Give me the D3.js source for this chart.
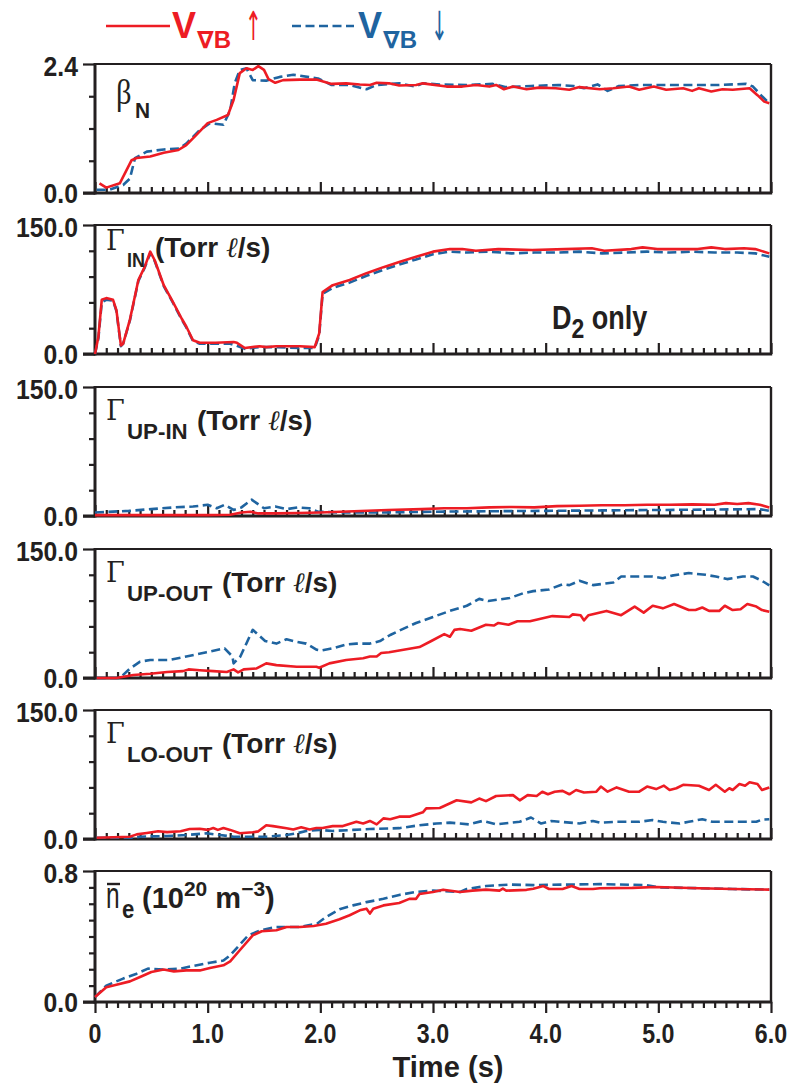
<!DOCTYPE html>
<html><head><meta charset="utf-8">
<script src="https://cdn.jsdelivr.net/npm/d3@7"></script>
<style>html,body{margin:0;padding:0;background:#fff}svg{display:block}</style>
</head><body>
<svg id="c" width="793" height="1091"></svg>
<script>
// ---------- DATA (time s, value) ----------
const timeTicks = [0,1,2,3,4,5,6];
const timeTickLabels = ["0","1.0","2.0","3.0","4.0","5.0","6.0"];

const betaUp = [[0.04,0.18],[0.10,0.10],[0.22,0.18],[0.325,0.61],[0.37,0.65],[0.49,0.68],[0.61,0.75],[0.74,0.80],[0.81,0.89],[0.90,1.08],[1.00,1.30],[1.08,1.36],[1.18,1.45],[1.23,1.73],[1.285,2.23],[1.345,2.32],[1.40,2.29],[1.45,2.36],[1.50,2.29],[1.54,2.12],[1.60,2.05],[1.67,2.10],[1.82,2.11],[1.965,2.11],[2.10,2.03],[2.23,2.04],[2.35,2.02],[2.44,2.01],[2.50,2.05],[2.61,2.04],[2.70,2.00],[2.85,2.01],[2.91,2.04],[3.12,1.98],[3.26,1.98],[3.38,2.01],[3.50,1.98],[3.56,2.01],[3.63,1.93],[3.71,1.98],[3.83,1.93],[3.94,1.96],[4.09,1.95],[4.21,1.92],[4.30,1.97],[4.48,1.93],[4.60,1.95],[4.74,1.98],[4.83,1.92],[4.96,1.98],[5.07,1.92],[5.22,1.95],[5.30,1.90],[5.36,1.95],[5.47,1.89],[5.57,1.93],[5.66,1.92],[5.81,1.95],[5.88,1.82],[5.94,1.70],[5.985,1.67]];
const betaDown = [[0.015,0.06],[0.13,0.06],[0.25,0.15],[0.31,0.27],[0.355,0.65],[0.46,0.77],[0.61,0.81],[0.75,0.83],[0.81,0.92],[0.93,1.17],[1.02,1.30],[1.14,1.27],[1.20,1.54],[1.24,2.04],[1.285,2.29],[1.345,2.32],[1.40,2.10],[1.52,2.09],[1.64,2.16],[1.76,2.20],[1.98,2.13],[2.10,2.01],[2.26,2.01],[2.41,1.93],[2.50,2.01],[2.70,2.04],[2.84,1.98],[2.91,2.04],[3.06,2.02],[3.30,2.01],[3.53,2.03],[3.64,1.97],[3.87,1.99],[4.11,2.01],[4.25,1.99],[4.34,1.95],[4.46,2.02],[4.55,1.90],[4.65,1.99],[4.83,2.01],[5.07,2.01],[5.30,2.01],[5.54,2.01],[5.78,2.03],[5.84,1.98],[5.925,1.79],[5.985,1.67]];

const inUp = [[0,0],[0.03,20],[0.06,63],[0.10,65],[0.16,63],[0.19,51],[0.23,10],[0.25,12],[0.31,40],[0.385,86],[0.44,101],[0.49,119],[0.53,109],[0.61,80],[0.69,61],[0.77,41],[0.81,32],[0.87,16],[0.93,13],[1.07,13],[1.23,14],[1.26,13],[1.33,7],[1.46,9],[1.52,8],[1.61,9],[1.82,9],[1.95,8],[1.99,24],[2.02,72],[2.11,80],[2.26,86],[2.41,94],[2.56,101],[2.70,107],[2.85,113],[3.00,119],[3.15,122],[3.26,122],[3.38,120],[3.58,122],[3.88,121],[4.17,122],[4.41,123],[4.52,120],[4.76,122],[4.86,124],[4.99,122],[5.35,122],[5.47,124],[5.59,122],[5.76,123],[5.86,122],[5.985,117]];
const inDown = [[0,0],[0.03,18],[0.06,60],[0.10,63],[0.16,62],[0.19,50],[0.23,9],[0.25,12],[0.31,39],[0.385,85],[0.44,100],[0.49,117],[0.53,108],[0.61,79],[0.69,60],[0.77,40],[0.81,31],[0.87,15],[0.93,12],[1.07,12],[1.20,12],[1.25,10],[1.33,6],[1.46,8],[1.61,8],[1.82,7],[1.95,7],[1.99,22],[2.02,70],[2.11,77],[2.26,83],[2.41,91],[2.56,98],[2.70,104],[2.85,110],[3.00,116],[3.15,119],[3.30,118],[3.50,119],[3.70,117],[3.90,118],[4.10,118],[4.30,119],[4.50,117],[4.70,118],[4.90,119],[5.10,118],[5.30,119],[5.50,118],[5.70,118],[5.86,117],[5.985,113]];

const upInUp = [[0,1],[0.5,1],[1.0,1],[1.2,1.5],[1.30,4],[1.38,5],[1.45,3],[1.6,3],[1.8,3.5],[2.0,4],[2.3,5.5],[2.6,7],[2.9,8],[3.1,9],[3.3,9],[3.5,10],[3.7,10.5],[3.9,10],[4.1,11.5],[4.3,12],[4.5,12.5],[4.7,12.5],[4.9,13],[5.1,13],[5.3,13.5],[5.5,13],[5.6,15],[5.7,14],[5.8,15],[5.9,13],[5.985,10]];
const upInDown = [[0,4],[0.3,6],[0.5,8],[0.7,10],[0.87,11],[1.0,13],[1.08,9],[1.15,13],[1.23,7],[1.3,10],[1.39,19],[1.5,9],[1.6,11],[1.7,8],[1.8,10],[1.9,9],[1.98,5],[2.2,4],[2.5,4],[3.0,5],[3.5,5.5],[4.0,6],[4.5,6.5],[5.0,7],[5.5,7.5],[5.9,8],[5.985,6]];

const upOutUp = [[0.015,0],[0.19,0],[0.34,3.5],[0.49,5],[0.64,7],[0.78,8],[0.83,10],[0.93,9],[1.05,8],[1.17,7],[1.23,10],[1.27,6.6],[1.32,10],[1.43,11],[1.52,17],[1.61,15],[1.79,13],[1.965,13],[1.99,12],[2.08,17],[2.23,21],[2.38,23],[2.44,25],[2.50,25],[2.54,29],[2.61,30],[2.70,32],[2.88,36],[2.985,43],[3.10,51],[3.15,48],[3.19,56],[3.24,57],[3.34,55],[3.47,62],[3.54,61],[3.58,64],[3.67,62],[3.75,66],[3.86,66],[4.06,72],[4.21,71],[4.24,74],[4.31,73],[4.34,67],[4.38,73],[4.54,78],[4.67,73],[4.79,83],[4.87,76],[4.95,84],[5.04,81],[5.14,86],[5.27,79],[5.33,79],[5.39,82],[5.45,78],[5.54,78],[5.59,84],[5.66,79],[5.73,80],[5.79,86],[5.87,83],[5.92,79],[5.985,77]];
const upOutDown = [[0.015,0],[0.22,0],[0.31,11],[0.40,19],[0.49,21],[0.66,21],[0.81,25],[0.99,30],[1.15,34.5],[1.22,25],[1.23,17],[1.29,25],[1.40,56],[1.51,43],[1.61,40],[1.70,45],[1.79,42],[1.875,40],[1.965,33],[2.01,32],[2.11,34.5],[2.23,39],[2.32,40],[2.44,40],[2.53,43],[2.62,50],[2.70,55],[2.85,64],[3.00,71],[3.15,78],[3.30,84],[3.41,92],[3.49,89.5],[3.68,93],[3.80,98.5],[3.89,101],[4.03,103],[4.15,109],[4.21,108],[4.30,113],[4.42,108],[4.60,111],[4.67,118],[4.77,118],[4.95,118],[5.04,116],[5.12,119],[5.27,122],[5.42,120],[5.51,118],[5.61,115],[5.66,116],[5.75,118],[5.84,118],[5.92,113],[5.985,107.6]];

const loOutUp = [[0.015,1.5],[0.31,2.7],[0.37,5.4],[0.46,7],[0.56,9],[0.64,8],[0.76,9],[0.84,11.6],[0.93,12],[1.00,10.6],[1.05,12.8],[1.09,10.6],[1.14,12.8],[1.20,10.6],[1.285,6.6],[1.40,7.8],[1.45,8.9],[1.52,16],[1.58,15],[1.70,12.4],[1.76,11],[1.83,13.6],[1.905,11],[1.965,12.8],[2.02,12.8],[2.11,15],[2.20,15],[2.32,20],[2.38,18],[2.44,21],[2.50,17],[2.56,24],[2.62,23],[2.70,26],[2.79,26],[2.91,31],[2.94,35.6],[3.06,36],[3.21,45],[3.34,42.6],[3.41,47],[3.47,44],[3.56,50],[3.71,51],[3.77,45],[3.84,51],[3.92,50],[3.97,55],[4.02,52],[4.08,55],[4.15,56],[4.21,52],[4.27,57],[4.34,54],[4.45,55],[4.49,61],[4.55,55],[4.63,60],[4.74,55],[4.83,55],[4.90,61],[4.98,58],[5.05,62],[5.10,57],[5.16,59],[5.22,63],[5.36,62],[5.45,57],[5.51,63],[5.59,55],[5.63,59],[5.66,57],[5.72,64],[5.77,62],[5.81,66],[5.88,64],[5.92,57],[5.985,60]];
const loOutDown = [[0.015,1.5],[0.34,1.5],[0.40,2.7],[0.64,3.5],[0.81,4.6],[0.99,6.6],[1.11,4.6],[1.23,2.7],[1.52,2.7],[1.70,4.6],[1.79,6.6],[1.875,9.3],[1.99,10.6],[2.11,9.3],[2.29,10.6],[2.44,11.6],[2.70,12.6],[2.88,16],[3.03,18],[3.15,19],[3.32,17],[3.44,21],[3.56,17],[3.77,20],[3.87,25],[3.96,18],[4.05,21],[4.30,18],[4.42,21],[4.48,19],[4.63,20],[4.83,20],[4.95,22],[5.04,20],[5.19,18],[5.27,20],[5.39,23],[5.48,20],[5.66,20],[5.87,20],[5.92,22.5],[5.985,23]];

const neUp = [[0,0.03],[0.10,0.09],[0.19,0.106],[0.31,0.126],[0.40,0.153],[0.50,0.183],[0.61,0.198],[0.70,0.187],[0.81,0.193],[0.93,0.193],[1.02,0.208],[1.14,0.224],[1.20,0.248],[1.285,0.316],[1.40,0.407],[1.48,0.432],[1.61,0.438],[1.70,0.458],[1.82,0.458],[1.94,0.464],[2.05,0.478],[2.17,0.505],[2.26,0.53],[2.35,0.56],[2.41,0.57],[2.44,0.54],[2.47,0.57],[2.56,0.59],[2.70,0.605],[2.79,0.63],[2.85,0.63],[2.88,0.66],[3.00,0.672],[3.09,0.686],[3.24,0.672],[3.35,0.68],[3.47,0.686],[3.59,0.68],[3.62,0.692],[3.65,0.68],[3.83,0.685],[3.89,0.692],[3.98,0.708],[4.03,0.69],[4.15,0.69],[4.23,0.708],[4.30,0.69],[4.42,0.69],[4.48,0.695],[4.77,0.697],[4.98,0.702],[5.36,0.695],[5.66,0.69],[5.985,0.686]];
const neDown = [[0,0.03],[0.10,0.10],[0.25,0.143],[0.37,0.173],[0.47,0.204],[0.61,0.198],[0.76,0.204],[0.87,0.22],[1.02,0.24],[1.14,0.253],[1.20,0.285],[1.285,0.35],[1.36,0.407],[1.47,0.438],[1.61,0.458],[1.82,0.458],[1.97,0.478],[2.05,0.519],[2.17,0.566],[2.29,0.59],[2.41,0.61],[2.56,0.63],[2.70,0.654],[2.85,0.672],[3.00,0.68],[3.24,0.672],[3.30,0.69],[3.47,0.708],[3.68,0.717],[3.89,0.714],[4.18,0.717],[4.48,0.72],[4.89,0.714],[5.01,0.70],[5.36,0.695],[5.66,0.69],[5.985,0.686]];

const yMax = [2.4, 150, 150, 150, 150, 0.8];
const yStep = [0.6, 30, 30, 30, 30, 0.1];
const yTopLabels = ["2.4","150.0","150.0","150.0","150.0","0.8"];
const yBottomLabel = "0.0";
const subLabels = ["N","IN","UP-IN","UP-OUT","LO-OUT","e"];

// ---------- STYLE / LAYOUT ----------
const INK = "#231f20", RED = "#ed1c24", BLUE = "#1f64a0";
const SANS = "'Liberation Sans', Arial, Helvetica, sans-serif";
const SERIF = "'Liberation Serif', 'Times New Roman', serif";
const GREEK = "'DejaVu Serif', 'Liberation Serif', serif";
const X0 = 95, X1 = 771;
const tops = [64, 225, 387, 549, 710, 871];
const heights = [129, 129, 129, 129, 129, 131];

const svg = d3.select("#c");
const x = d3.scaleLinear().domain([0, 6]).range([X0, X1]);

function txt(parent, px, py, s, o) {
  o = o || {};
  const t = parent.append("text")
    .attr("transform", `translate(${px},${py}) scale(${o.sx || 1},${o.sy || 1})`)
    .attr("font-family", o.ff || SANS)
    .attr("font-size", o.size || 20)
    .attr("font-weight", o.w || "bold")
    .attr("fill", o.fill || INK)
    .attr("text-anchor", o.anchor || "start");
  if (s !== null) t.text(s);
  return t;
}

const series = [[betaUp, betaDown],[inUp, inDown],[upInUp, upInDown],[upOutUp, upOutDown],[loOutUp, loOutDown],[neUp, neDown]];
const minorX = d3.range(0, 61).map(i => i / 10).filter(v => Math.abs(v - Math.round(v)) > 1e-6);

series.forEach((pair, i) => {
  const top = tops[i], bot = top + heights[i];
  const y = d3.scaleLinear().domain([0, yMax[i]]).range([bot, top]);
  const g = svg.append("g");
  const last = i === 5;

  // y ticks
  const nMinor = Math.round(yMax[i] / yStep[i]);
  const minorY = d3.range(1, nMinor).map(k => k * yStep[i]);
  const gy = g.append("g").attr("transform", `translate(${X0},0)`);
  gy.append("g").call(d3.axisLeft(y).tickValues(minorY).tickSize(6).tickFormat(""));
  gy.append("g").call(d3.axisLeft(y).tickValues([0, yMax[i]]).tickSize(12).tickFormat(""));
  gy.selectAll(".domain").remove();
  gy.selectAll("line").attr("stroke", INK).attr("stroke-width", 2.2);

  // x ticks
  const gx = g.append("g").attr("transform", `translate(0,${bot})`);
  const dir = last ? 1 : -1;
  gx.append("g").call(d3.axisBottom(x).tickValues(minorX).tickSizeInner(dir * 6).tickSizeOuter(0).tickFormat(""));
  gx.append("g").call(d3.axisBottom(x).tickValues(timeTicks).tickSizeInner(dir * 11).tickSizeOuter(0).tickFormat(""));
  gx.selectAll(".domain").remove();
  gx.selectAll("line").attr("stroke", INK).attr("stroke-width", 2.2);

  // frame
  g.append("line").attr("x1", X0).attr("x2", X1).attr("y1", top).attr("y2", top).attr("stroke", INK).attr("stroke-width", 2);
  g.append("line").attr("x1", X1).attr("x2", X1).attr("y1", top).attr("y2", bot).attr("stroke", INK).attr("stroke-width", 2.4);
  g.append("line").attr("x1", X0).attr("x2", X0).attr("y1", top - 1).attr("y2", bot + 1.5).attr("stroke", INK).attr("stroke-width", 3);
  g.append("line").attr("x1", X0 - 12).attr("x2", X1 + 1.2).attr("y1", bot).attr("y2", bot).attr("stroke", INK).attr("stroke-width", 3);

  // y labels
  txt(g, 78, y(yMax[i]) + 12, yTopLabels[i], { size: 27.5, sx: 0.9, anchor: "end" });
  txt(g, 78, y(0) + 10, yBottomLabel, { size: 27.5, sx: 0.9, anchor: "end" });

  // lines
  const line = d3.line().x(d => x(d[0])).y(d => y(d[1]));
  g.append("path").datum(pair[1]).attr("d", line).attr("fill", "none")
    .attr("stroke", BLUE).attr("stroke-width", 2.6).attr("stroke-dasharray", "9,4.5").attr("stroke-linejoin", "round");
  g.append("path").datum(pair[0]).attr("d", line).attr("fill", "none")
    .attr("stroke", RED).attr("stroke-width", 2.6).attr("stroke-linejoin", "round");

  // x tick labels (bottom panel only)
  if (last) {
    timeTicks.forEach((t, k) => txt(g, x(t), bot + 41, timeTickLabels[k], { size: 27, sx: 0.86, anchor: "middle" }));
  }
});

// ---------- panel titles ----------
const T = tops;
// beta_N
txt(svg, 116, T[0] + 40, "β", { ff: SERIF, w: "normal", size: 36, sx: 0.85 });
txt(svg, 135, T[0] + 54, subLabels[0], { size: 22, sx: 0.95 });
// Gamma IN
const gammaStyle = { ff: GREEK, w: "normal", size: 27, sx: 1.0 };
txt(svg, 106, T[1] + 25, "Γ", gammaStyle);
txt(svg, 127, T[1] + 42, subLabels[1], { size: 21, sx: 0.86 });
function torr(px, py) {
  const t = txt(svg, px, py, null, { size: 28 });
  t.append("tspan").text("(Torr ");
  t.append("tspan").attr("font-style", "italic").attr("font-weight", "normal").attr("font-family", SERIF).text("ℓ");
  t.append("tspan").text("/s)");
}
torr(155, T[1] + 32);
// Gamma UP-IN, UP-OUT, LO-OUT
[[2, 197], [3, 222], [4, 222]].forEach(([k, tx]) => {
  txt(svg, 106, T[k] + 33, "Γ", gammaStyle);
  txt(svg, 127, T[k] + 52, subLabels[k], { size: 23, sx: 0.97 });
  torr(tx, T[k] + 43);
});
// n_e
txt(svg, 106, T[5] + 37, "n", { w: "normal", size: 36, sx: 0.68 });
svg.append("line").attr("x1", 107).attr("x2", 120).attr("y1", T[5] + 13).attr("y2", T[5] + 13).attr("stroke", INK).attr("stroke-width", 2.4);
txt(svg, 122, T[5] + 47, subLabels[5], { size: 26, sx: 0.85 });
{
  const t = txt(svg, 142, T[5] + 37, null, { size: 29 });
  t.append("tspan").text("(10");
  t.append("tspan").attr("font-size", 21).attr("dy", -12).text("20");
  t.append("tspan").attr("dy", 12).text(" m");
  t.append("tspan").attr("font-size", 21).attr("dy", -12).text("−3");
  t.append("tspan").attr("dy", 12).text(")");
}
// D2 only
{
  const t = txt(svg, 552, 329, null, { size: 33, sx: 0.82 });
  t.append("tspan").text("D");
  t.append("tspan").attr("font-size", 28).attr("dy", 9).text("2");
  t.append("tspan").attr("dy", -9).text(" only");
}
// Time (s)
txt(svg, 448, 1077, "Time (s)", { size: 30, sx: 0.97, anchor: "middle" });

// ---------- legend ----------
svg.append("line").attr("x1", 106).attr("x2", 170).attr("y1", 26).attr("y2", 26).attr("stroke", RED).attr("stroke-width", 2.6);
svg.append("line").attr("x1", 292).attr("x2", 354).attr("y1", 26).attr("y2", 26).attr("stroke", BLUE).attr("stroke-width", 2.6).attr("stroke-dasharray", "9,4.5");
function legendLabel(px, col, arrow) {
  txt(svg, px, 38, "V", { size: 36, fill: col });
  const s = txt(svg, px + 25, 48, null, { size: 24, fill: col });
  s.append("tspan").attr("font-family", "'DejaVu Sans', sans-serif").text("∇");
  s.append("tspan").text("B");
  txt(svg, px + 73, 40, arrow, { ff: "'DejaVu Sans', sans-serif", size: 40, w: "normal", sx: 0.5, fill: col });
}
legendLabel(172, RED, "↑");
legendLabel(358, BLUE, "↓");
</script>
</body></html>
